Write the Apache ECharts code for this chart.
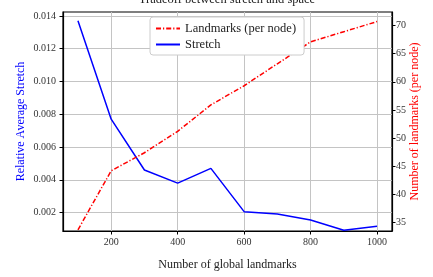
<!DOCTYPE html>
<html>
<head>
<meta charset="utf-8">
<script src="https://cdn.jsdelivr.net/npm/echarts@6/dist/echarts.min.js"></script>
<style>html,body{margin:0;padding:0;background:#fff}#c{width:433px;height:277px}</style>
</head>
<body>
<div id="c"></div>
<script>
const xValues = [100, 200, 300, 400, 500, 600, 700, 800, 900, 1000];
const stretch = [0.0137, 0.0077, 0.0046, 0.0038, 0.0047, 0.00206, 0.00192, 0.00155, 0.00093, 0.00117];
const landmarks = [33.7, 44.2, 47.4, 51.2, 55.9, 59.3, 63.2, 67.1, 68.9, 70.7];
const xTicks = [200, 400, 600, 800, 1000];
const leftTicks = [0.002, 0.004, 0.006, 0.008, 0.010, 0.012, 0.014];
const rightTicks = [35, 40, 45, 50, 55, 60, 65, 70];
const titleText = 'Tradeoff between stretch and space';

const FONT = '"Liberation Serif", "DejaVu Serif", serif';
const chart = echarts.init(document.getElementById('c'), null, {renderer: 'canvas'});
chart.setOption({
  animation: false,
  backgroundColor: '#fff',
  graphic: [{
    type: 'text', x: 227, y: 6, z: 10,
    style: {text: titleText, textAlign: 'center', textVerticalAlign: 'bottom',
      font: '12.5px ' + FONT, fill: '#222'}
  }],
  legend: {
    orient: 'vertical', left: 150, top: 17,
    width: 155,
    padding: [5, 8, 4, 5],
    itemGap: 3,
    itemWidth: 24, itemHeight: 10,
    backgroundColor: '#fff', borderColor: '#ccc', borderWidth: 1, borderRadius: 3,
    itemStyle: {opacity: 0},
    textStyle: {fontFamily: FONT, fontSize: 12.5, color: '#222'},
    data: ['Landmarks (per node)', 'Stretch']
  },
  grid: {left: 63, right: 41, top: 12, bottom: 46, show: true, borderColor: '#000', borderWidth: 1.2, backgroundColor: 'transparent'},
  xAxis: {
    type: 'value', min: 55, max: 1045,
    name: 'Number of global landmarks', nameLocation: 'middle', nameGap: 28, nameMoveOverlap: false,
    nameTextStyle: {fontFamily: FONT, fontSize: 12, color: '#222'},
    axisLine: {show: true, lineStyle: {color: '#000', width: 1.2}},
    axisTick: {show: true, customValues: xTicks, length: 3.5, lineStyle: {color: '#000'}},
    axisLabel: {customValues: xTicks, fontFamily: FONT, fontSize: 10, color: '#333', margin: 6,
      formatter: v => String(v)},
    splitLine: {show: true, lineStyle: {color: '#c4c4c4', width: 1}}
  },
  yAxis: [{
    type: 'value', position: 'left', min: 0.00088, max: 0.01424,
    name: 'Relative Average Stretch', nameLocation: 'middle', nameGap: 36, nameMoveOverlap: false,
    nameTextStyle: {fontFamily: FONT, fontSize: 12, color: '#0000ff'},
    axisLine: {show: true, lineStyle: {color: '#000', width: 1.2}},
    axisTick: {show: true, customValues: leftTicks, length: 3.5, lineStyle: {color: '#000'}},
    axisLabel: {customValues: leftTicks, fontFamily: FONT, fontSize: 10, color: '#333', margin: 7,
      formatter: v => v.toFixed(3)},
    splitLine: {show: true, lineStyle: {color: '#c4c4c4', width: 1}}
  }, {
    type: 'value', position: 'right', min: 33.5, max: 72.4,
    name: 'Number of landmarks (per node)', nameLocation: 'middle', nameGap: 17, nameMoveOverlap: false,
    nameTextStyle: {fontFamily: FONT, fontSize: 12, color: '#ff0000'},
    axisLine: {show: true, lineStyle: {color: '#000', width: 1.2}},
    axisTick: {show: true, customValues: rightTicks, length: 3.5, lineStyle: {color: '#000'}},
    axisLabel: {customValues: rightTicks, fontFamily: FONT, fontSize: 10, color: '#333', margin: 4},
    splitLine: {show: false}
  }],
  series: [{
    name: 'Landmarks (per node)', type: 'line', yAxisIndex: 1,
    data: xValues.map((x, i) => [x, landmarks[i]]),
    symbol: 'none', z: 3,
    lineStyle: {color: '#ff0000', width: 1.5, type: [5, 2, 1.2, 2]},
    itemStyle: {color: '#ff0000'}
  }, {
    name: 'Stretch', type: 'line', yAxisIndex: 0,
    data: xValues.map((x, i) => [x, stretch[i]]),
    symbol: 'none', z: 2,
    lineStyle: {color: '#0000ff', width: 1.5},
    itemStyle: {color: '#0000ff'}
  }]
});
</script>
</body>
</html>
